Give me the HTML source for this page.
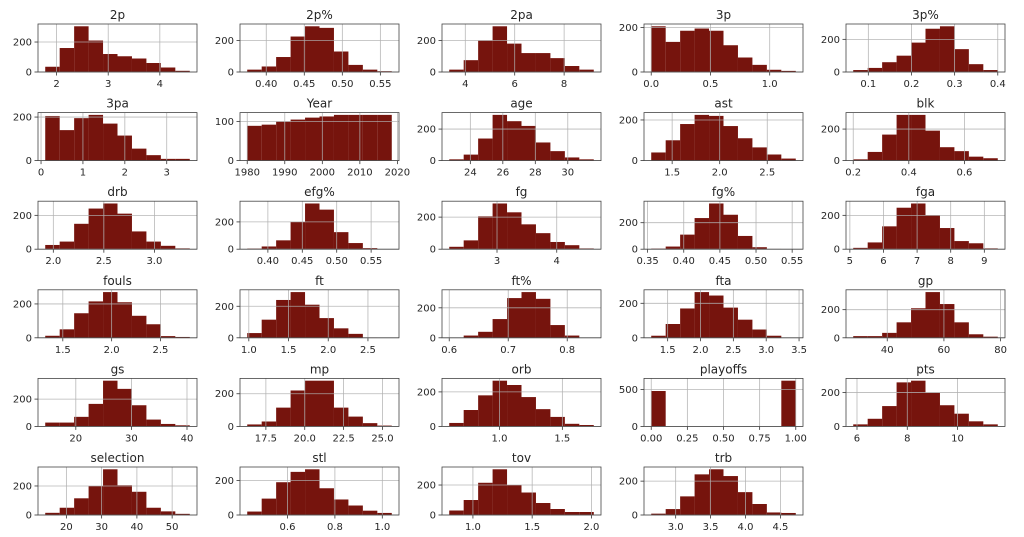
<!DOCTYPE html>
<html><head><meta charset="utf-8"><style>
html,body{margin:0;padding:0;background:#fff;}
svg{display:block;font-family:"DejaVu Sans","Liberation Sans",sans-serif;}
</style></head><body>
<svg id="s" width="1024" height="537" xmlns="http://www.w3.org/2000/svg"></svg>
<script>
const P=[
["2p",1.78,4.58,[35,160,305,210,120,105,90,60,30,8],[2,3,4],[0,200],0],
["2p%",0.375,0.565,[15,35,95,225,290,280,130,45,15,5],[0.40,0.45,0.50,0.55],[0,200],2],
["2pa",3.35,9.2,[15,75,200,290,180,120,120,88,38,15],[4,6,8],[0,200],0],
["3p",0,1.22,[205,135,185,195,185,120,65,32,10,5],[0,0.5,1.0],[0,200],1],
["3p%",0.065,0.40,[12,25,60,100,180,265,280,140,48,12],[0.1,0.2,0.3,0.4],[0,200],1],
["3pa",0.1,3.55,[205,140,195,210,170,115,55,25,8,8],[0,1,2,3],[0,200],0],
["Year",1980,2018.5,[89,92,100,105,110,113,117,117,117,117],[1980,1990,2000,2010,2020],[0,100],0],
["age",22.7,31.6,[8,38,140,290,250,220,115,60,20,8],[24,26,28,30],[0,200],0],
["ast",1.28,2.8,[40,100,180,225,220,170,110,65,30,10],[1.5,2.0,2.5],[0,200],1],
["blk",0.2,0.72,[8,55,165,290,290,190,85,60,25,15],[0.2,0.4,0.6],[0,200],1],
["drb",1.92,3.35,[25,45,150,240,270,210,105,45,20,5],[2.0,2.5,3.0],[0,200],1],
["efg%",0.37,0.58,[5,20,65,200,335,290,125,45,8,1],[0.40,0.45,0.50,0.55],[0,200],2],
["fg",2.2,4.62,[15,55,205,285,230,155,100,45,25,5],[3,4],[0,200],0],
["fg%",0.355,0.555,[5,20,110,235,345,260,100,15,2,1],[0.35,0.40,0.45,0.50,0.55],[0,200],2],
["fga",5.1,9.4,[8,40,135,245,270,200,125,48,35,5],[5,6,7,8,9],[0,200],0],
["fouls",1.32,2.8,[12,50,145,215,270,210,130,80,10,5],[1.5,2.0,2.5],[0,200],1],
["ft",0.98,2.8,[30,115,240,290,210,125,60,25,2,1],[1.0,1.5,2.0,2.5],[0,200],1],
["ft%",0.6,0.845,[1,15,40,125,265,305,260,85,15,2],[0.6,0.7,0.8],[0,200],1],
["fta",1.25,3.45,[12,80,170,265,245,175,105,48,12,1],[1.5,2.0,2.5,3.0,3.5],[0,200],1],
["gp",28,79,[12,12,35,110,210,325,240,110,25,8],[40,60,80],[0,200],0],
["gs",14.5,40.5,[28,28,70,165,335,275,155,50,18,8],[20,30,40],[0,200],0],
["mp",16.3,25.6,[12,30,115,220,280,280,115,60,20,5],[17.5,20.0,22.5,25.0],[0,200],1],
["orb",0.6,1.75,[20,95,180,265,240,170,100,55,15,8],[1.0,1.5],[0,200],1],
["playoffs",0,1,[480,0,0,0,0,0,0,0,0,620],[0,0.25,0.5,0.75,1.0],[0,500],2],
["pts",5.85,11.6,[12,45,120,260,270,200,125,75,30,12],[6,8,10],[0,200],0],
["selection",14,55,[15,50,115,200,315,205,160,50,25,8],[20,30,40,50],[0,200],0],
["stl",0.43,1.04,[20,95,190,250,265,155,90,55,25,12],[0.6,0.8,1.0],[0,200],1],
["tov",0.8,2.02,[30,100,215,305,200,150,80,40,20,20],[1.0,1.5,2.0],[0,200],1],
["trb",2.65,4.72,[8,35,110,240,270,230,135,65,15,12],[3.0,3.5,4.0,4.5],[0,200],1]
];
let h='';
const W=159,H=48;
P.forEach((p,i)=>{
 const [name,a,b,c,xt,yt,dec]=p;
 const col=i%5,row=Math.floor(i/5);
 const L=38+col*202, T=24+row*88.6, B=T+H;
 const pad=(b-a)*0.05, x0=a-pad, x1=b+pad;
 const mx=Math.max(...c)*1.05;
 const X=v=>L+(v-x0)/(x1-x0)*W, Y=v=>B-v/mx*H;
 h+=`<text x="${L+W/2}" y="${T-5}" font-size="12" text-anchor="middle" fill="#262626">${name}</text>`;
 const bw=(b-a)/10;
 c.forEach((v,k)=>{ if(v<=0)return; const xa=X(a+k*bw),xb=X(a+(k+1)*bw);
  h+=`<rect x="${xa}" y="${Y(v)}" width="${xb-xa}" height="${B-Y(v)}" fill="#76140d"/>`;});
 xt.forEach(v=>{const x=X(v);
  h+=`<line x1="${x}" y1="${T}" x2="${x}" y2="${B}" stroke="#b0b0b0" stroke-width="0.8" opacity="0.9"/>`;
  h+=`<line x1="${x}" y1="${B}" x2="${x}" y2="${B+3.5}" stroke="#333" stroke-width="0.8"/>`;
  h+=`<text x="${x}" y="${B+15}" font-size="10" text-anchor="middle" fill="#262626">${v.toFixed(dec)}</text>`;});
 yt.forEach(v=>{const y=Y(v);
  h+=`<line x1="${L}" y1="${y}" x2="${L+W}" y2="${y}" stroke="#b0b0b0" stroke-width="0.8" opacity="0.9"/>`;
  h+=`<line x1="${L-3.5}" y1="${y}" x2="${L}" y2="${y}" stroke="#333" stroke-width="0.8"/>`;
  h+=`<text x="${L-6}" y="${y+3.5}" font-size="10" text-anchor="end" fill="#262626">${v}</text>`;});
 h+=`<rect x="${L}" y="${T}" width="${W}" height="${H}" fill="none" stroke="#444" stroke-width="0.8"/>`;
});
document.getElementById('s').innerHTML=h;
</script>
</body></html>
